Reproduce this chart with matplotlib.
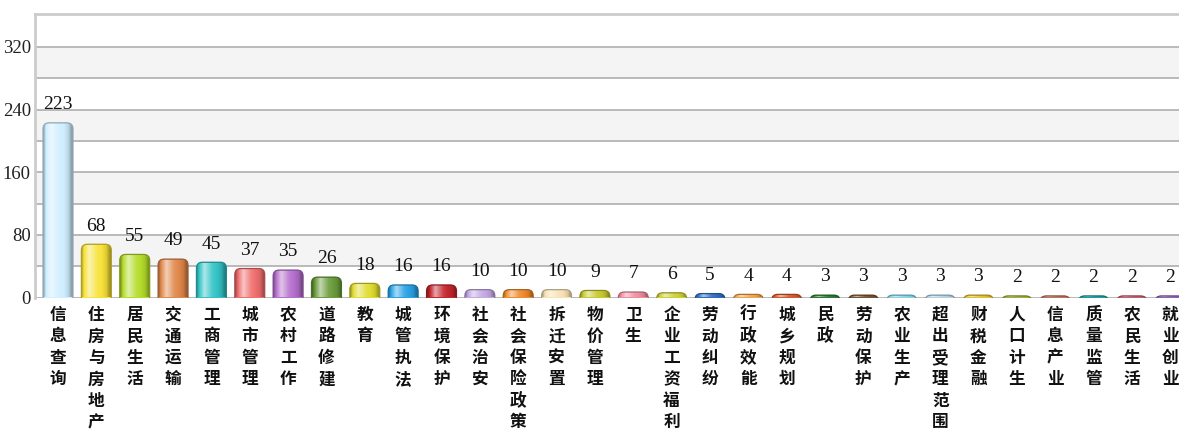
import matplotlib
matplotlib.use("Agg")
import matplotlib.pyplot as plt
import numpy as np
from matplotlib.colors import to_rgb
from matplotlib.patches import FancyBboxPatch

plt.rcParams['font.family'] = ['Noto Sans CJK SC', 'DejaVu Sans']

categories = ["信息查询", "住房与房地产", "居民生活", "交通运输", "工商管理", "城市管理",
              "农村工作", "道路修建", "教育", "城管执法", "环境保护", "社会治安",
              "社会保险政策", "拆迁安置", "物价管理", "卫生", "企业工资福利", "劳动纠纷",
              "行政效能", "城乡规划", "民政", "劳动保护", "农业生产", "超出受理范围",
              "财税金融", "人口计生", "信息产业", "质量监管", "农民生活", "就业创业"]
values = [223, 68, 55, 49, 45, 37, 35, 26, 18, 16, 16, 10, 10, 10, 9, 7, 6, 5,
          4, 4, 3, 3, 3, 3, 3, 2, 2, 2, 2, 2]
colors = ["#cfeeff", "#f7e23a", "#b5dc2c", "#e0874a", "#33c3c6", "#f06e6e",
          "#b46fcc", "#6a9c3c", "#e0dc30", "#2aa2e6", "#c4262e", "#c4a8e4",
          "#f08a2c", "#f8e2b4", "#c8c832", "#f08ea0", "#cfcf3a", "#2f6fc0",
          "#f0a450", "#d25c30", "#2a7a30", "#7a5232", "#84d2e4", "#b4d2e4",
          "#e2c032", "#a0b23c", "#c07464", "#1ea0a0", "#c46070", "#9462b4"]
y_ticks = [0, 80, 160, 240, 320]
grid_lines = [0, 40, 80, 120, 160, 200, 240, 280, 320]
bands = [(40, 80), (120, 160), (200, 240), (280, 320)]

NUM_FONT = ["Liberation Serif", "DejaVu Serif"]

W, H = 1179, 429
fig = plt.figure(figsize=(W / 100, H / 100), dpi=100)
ax_h_px = 297.5 - 14
ax = fig.add_axes([35 / W, (H - 297.5) / H, 1 - 35 / W, ax_h_px / H])
xlim = (-0.6, 29.23)
ylim = (0, 362)
ax.set_xlim(*xlim)
ax.set_ylim(*ylim)
px_per_x = (W - 35) / (xlim[1] - xlim[0])
px_per_y = ax_h_px / (ylim[1] - ylim[0])

for lo, hi in bands:
    ax.axhspan(lo, hi, color="#f4f4f4", zorder=0, lw=0)
for g in grid_lines:
    ax.axhline(g, color="#b4b4b4", lw=1.3, zorder=1)

x = np.arange(len(categories))
bars = ax.bar(x, values, width=0.78, color=colors, zorder=3, lw=0)


def shade(c, f):
    r = np.array(to_rgb(c))
    if f >= 0:
        return r + (1 - r) * f
    return r * (1 + f)


r_px = 6.0
rx = r_px / px_per_x
aspect = (r_px / px_per_y) / rx
for b, c in zip(bars, colors):
    b.set_visible(False)
    bx, bw, bh = b.get_x(), b.get_width(), b.get_height()
    ry = r_px / px_per_y
    box = FancyBboxPatch((bx, -ry * 1.2), bw, bh + ry * 1.2,
                         boxstyle=f"round,pad=0,rounding_size={rx}",
                         mutation_aspect=aspect, facecolor="none",
                         edgecolor=shade(c, -0.3), lw=0.9, zorder=5)
    ax.add_patch(box)
    fill = FancyBboxPatch((bx, -ry * 1.2), bw, bh + ry * 1.2,
                          boxstyle=f"round,pad=0,rounding_size={rx}",
                          mutation_aspect=aspect, facecolor=c, lw=0, zorder=3)
    ax.add_patch(fill)
    t = np.linspace(0, 1, 64)
    prof = np.interp(t, [0, 0.08, 0.28, 0.55, 0.85, 1.0], [-0.35, -0.05, 0.6, 0.1, -0.1, -0.4])
    img = np.array([[shade(c, p) for p in prof]])
    im = ax.imshow(img, extent=(bx, bx + bw, 0, bh), aspect='auto', zorder=4,
                   interpolation='bilinear')
    im.set_clip_path(fill)

for xi, v in zip(x, values):
    ax.annotate(str(v), (xi, v), xytext=(0, 7), textcoords="offset points",
                ha="center", va="bottom", fontsize=14, family=NUM_FONT,
                color="#111111", zorder=6)

ax.set_yticks(y_ticks)
ax.set_yticklabels([str(t) for t in y_ticks], fontsize=13.5, family=NUM_FONT, color="#222222")
ax.set_xticks(x)
ax.set_xticklabels(["\n".join(c) for c in categories], fontsize=12, linespacing=1.25,
                   va="top", color="#111111", fontweight="bold")
ax.tick_params(axis="x", length=0, pad=6)
ax.tick_params(axis="y", length=0, pad=3)

for s in ["right", "bottom"]:
    ax.spines[s].set_visible(False)
ax.spines["top"].set_color("#cccccc")
ax.spines["top"].set_linewidth(2)
ax.spines["left"].set_color("#cccccc")
ax.spines["left"].set_linewidth(2)

fig.savefig("out.png", dpi=100)
